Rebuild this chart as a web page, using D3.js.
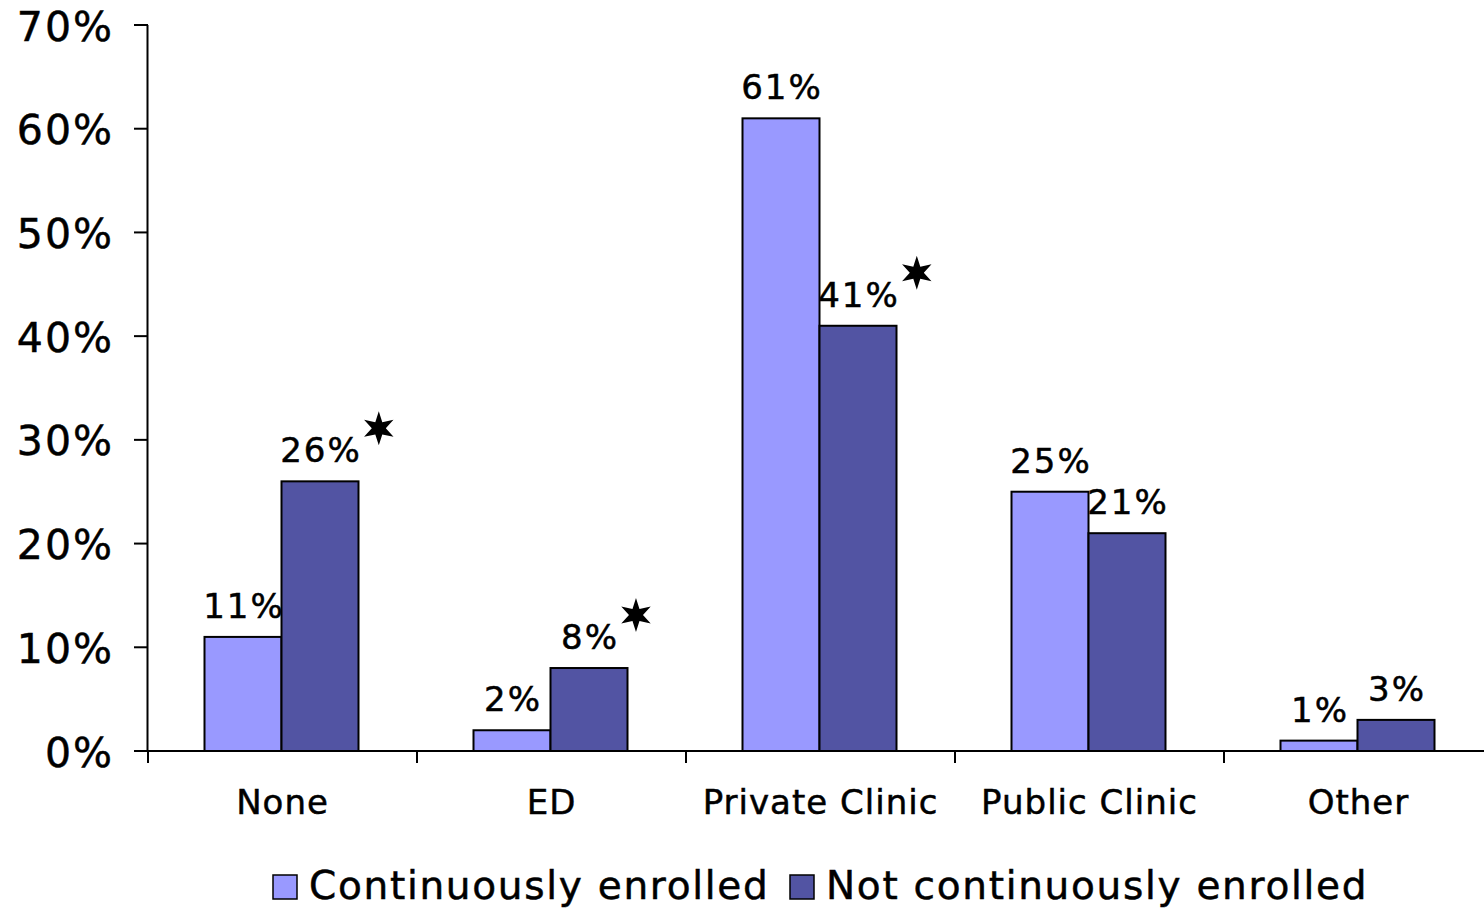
<!DOCTYPE html>
<html><head><meta charset="utf-8">
<script src="https://cdn.jsdelivr.net/npm/d3@7"></script>
<style>body{margin:0;background:#fff}svg{display:block}text{font-family:"DejaVu Sans",Verdana,sans-serif;fill:#000;stroke:#000;stroke-width:0.5px}</style>
</head><body>
<script>
const categories = ["None","ED","Private Clinic","Public Clinic","Other"];
const seriesNames = ["Continuously enrolled","Not continuously enrolled"];
const continuous = [11,2,61,25,1];
const notContinuous = [26,8,41,21,3];
const significant = [true,true,true,false,false];
const yTicks = [0,10,20,30,40,50,60,70];
const colors = ["#9999ff","#5254a3"];

const W=1484,H=910;
const svg=d3.select("body").append("svg").attr("width",W).attr("height",H);
const x0=d3.scaleBand().domain(categories).range([148,1493]).paddingInner(0).paddingOuter(0);
const y=d3.scaleLinear().domain([0,70]).range([751,25]);
const barW=77;

// y axis
const g=svg.append("g");
g.append("line").attr("x1",147.5).attr("x2",147.5).attr("y1",25).attr("y2",751).attr("stroke","#000").attr("stroke-width",2);
yTicks.forEach(t=>{
  g.append("line").attr("x1",134).attr("x2",148).attr("y1",y(t)).attr("y2",y(t)).attr("stroke","#000").attr("stroke-width",2);
  g.append("text").attr("x",114).attr("y",y(t)).attr("dy","0.38em").attr("text-anchor","end")
   .style("font-size","41px").style("letter-spacing","2px").text(t+"%");
});

// bars
const series=[continuous,notContinuous];
categories.forEach((c,i)=>{
  const cx=x0(c)+x0.bandwidth()/2;
  series.forEach((s,j)=>{
    const bx=cx-barW+j*barW-1;
    svg.append("rect").attr("x",bx).attr("y",y(s[i])).attr("width",barW).attr("height",y(0)-y(s[i]))
      .attr("fill",colors[j]).attr("stroke","#000").attr("stroke-width",2);
  });
});
// x axis
svg.append("line").attr("x1",134).attr("x2",1484).attr("y1",751).attr("y2",751).attr("stroke","#000").attr("stroke-width",2);
categories.forEach(c=>{
  svg.append("line").attr("x1",x0(c)).attr("x2",x0(c)).attr("y1",751).attr("y2",763).attr("stroke","#000").attr("stroke-width",2);
  svg.append("text").attr("x",x0(c)+x0.bandwidth()/2).attr("y",814).attr("text-anchor","middle")
    .style("font-size","34px").style("letter-spacing","1px").text(c);
});
// six-pointed star path generator
function starPath(r1,r2){
  const pts=d3.range(12).map(k=>{const a=k*Math.PI/6; const r=k%2?r2:r1; return [r*Math.sin(a),-r*Math.cos(a)];});
  return d3.line()(pts)+"Z";
}
// labels
categories.forEach((c,i)=>{
  const cx=x0(c)+x0.bandwidth()/2;
  series.forEach((s,j)=>{
    const lx=cx-barW/2+j*barW-1;
    const t=svg.append("text").attr("x",lx+1).attr("y",y(s[i])-19).attr("text-anchor","middle")
      .style("font-size","34px").style("letter-spacing","2px").text(s[i]+"%");
    if(j===1 && significant[i]){
      const bb=t.node().getBBox();
      svg.append("path").attr("d",starPath(17,7)).attr("fill","#000")
        .attr("transform",`translate(${bb.x+bb.width+17},${y(s[i])-53})`);
    }
  });
});
// legend
const leg=[{x:273,tx:309},{x:790,tx:826}];
seriesNames.forEach((n,j)=>{
  svg.append("rect").attr("x",leg[j].x).attr("y",875).attr("width",24).attr("height",24).attr("fill",colors[j]).attr("stroke","#000").attr("stroke-width",1.5);
  svg.append("text").attr("x",leg[j].tx).attr("y",899).style("font-size","39px").style("letter-spacing","1.7px").text(n);
});
</script>
</body></html>
